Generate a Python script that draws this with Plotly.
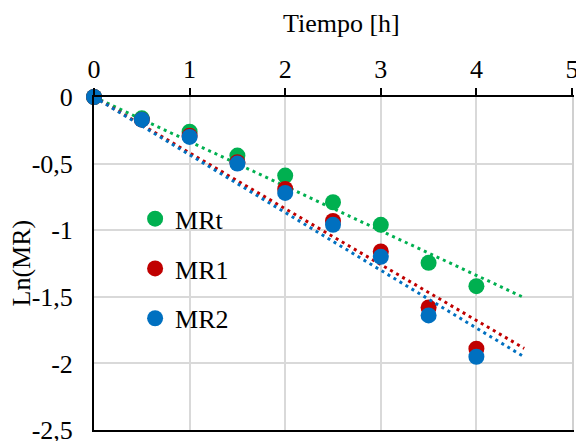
import numpy as np
import plotly.graph_objects as go

tiempo = [0, 0.5, 1, 1.5, 2, 2.5, 3, 3.5, 4]
mrt = [0, -0.16, -0.26, -0.44, -0.59, -0.79, -0.96, -1.245, -1.42]
mr1 = [0, -0.17, -0.29, -0.49, -0.69, -0.93, -1.16, -1.58, -1.89]
mr2 = [0, -0.17, -0.30, -0.50, -0.72, -0.96, -1.20, -1.64, -1.95]
series_names = ["MRt", "MR1", "MR2"]
colors = ["#00b050", "#c00000", "#0070c0"]
trend_end = 4.5

x_ticks = [0, 1, 2, 3, 4, 5]
y_ticks = [0, -0.5, -1, -1.5, -2, -2.5]
y_ticktext = ["0", "-0,5", "-1", "-1,5", "-2", "-2,5"]

FONT = "'Times New Roman', 'Liberation Serif', serif"
FS = 26

fig = go.Figure()
xs = np.array(tiempo)
for name, ys, col in zip(series_names, [mrt, mr1, mr2], colors):
    ys = np.array(ys)
    slope = float(np.sum(xs * ys) / np.sum(xs * xs))  # trendline through origin
    xt = np.array([0, trend_end])
    fig.add_trace(go.Scatter(
        x=tiempo, y=list(ys), mode="markers", name=name, legendgroup=name,
        marker=dict(color=col, size=16), cliponaxis=False))
    fig.add_trace(go.Scatter(
        x=list(xt), y=list(slope * xt), mode="lines", legendgroup=name,
        showlegend=False, line=dict(color=col, width=3, dash="3px,4px"),
        hoverinfo="skip"))

# bottom border axis and right gridline axis
fig.add_trace(go.Scatter(x=[None], y=[None], xaxis="x2", showlegend=False))
fig.add_trace(go.Scatter(x=[None], y=[None], yaxis="y2", showlegend=False))

fig.update_layout(
    width=576, height=441,
    margin=dict(l=94, r=4, t=97, b=11),
    paper_bgcolor="white", plot_bgcolor="white",
    font=dict(family=FONT, size=FS, color="black"),
    xaxis=dict(range=[0, 5], side="top", tickvals=x_ticks,
               ticks="outside", ticklen=7, tickwidth=2, tickcolor="black",
               showline=True, linecolor="black", linewidth=2,
               showgrid=True, gridcolor="#d9d9d9", gridwidth=2,
               zeroline=False, ticklabeloverflow="allow", automargin=False,
               tickfont=dict(family=FONT, size=FS)),
    xaxis2=dict(range=[0, 5], overlaying="x", side="bottom", anchor="y",
                showline=True, linecolor="black", linewidth=2, automargin=False,
                showticklabels=False, ticks="", showgrid=False, zeroline=False),
    yaxis=dict(range=[-2.5, 0], tickvals=y_ticks, ticktext=y_ticktext,
               ticks="", showline=True, linecolor="black", linewidth=2,
               showgrid=True, gridcolor="#d9d9d9", gridwidth=2,
               zeroline=False, ticklabelstandoff=14, ticklabeloverflow="allow",
               automargin=False,
               tickfont=dict(family=FONT, size=FS)),
    yaxis2=dict(range=[-2.5, 0], overlaying="y", side="right", anchor="x",
                showline=True, linecolor="#d0d0d0", linewidth=2, automargin=False,
                showticklabels=False, ticks="", showgrid=False, zeroline=False),
    annotations=[
        dict(text="Ln(MR)", textangle=-90, xref="paper", yref="paper",
             x=0, y=0.5, xshift=-73, yshift=0, showarrow=False,
             xanchor="center", yanchor="middle",
             font=dict(family=FONT, size=FS)),
        dict(text="Tiempo [h]", xref="paper", yref="paper",
             x=0.5, y=1, xshift=8, yshift=74, showarrow=False,
             xanchor="center", yanchor="middle",
             font=dict(family=FONT, size=FS)),
    ],
    legend=dict(x=0.086, y=0.705, xanchor="left", yanchor="top",
                bgcolor="rgba(0,0,0,0)", font=dict(family=FONT, size=FS),
                tracegroupgap=13, itemwidth=30),
    showlegend=True,
)

fig.write_html("out.html")
